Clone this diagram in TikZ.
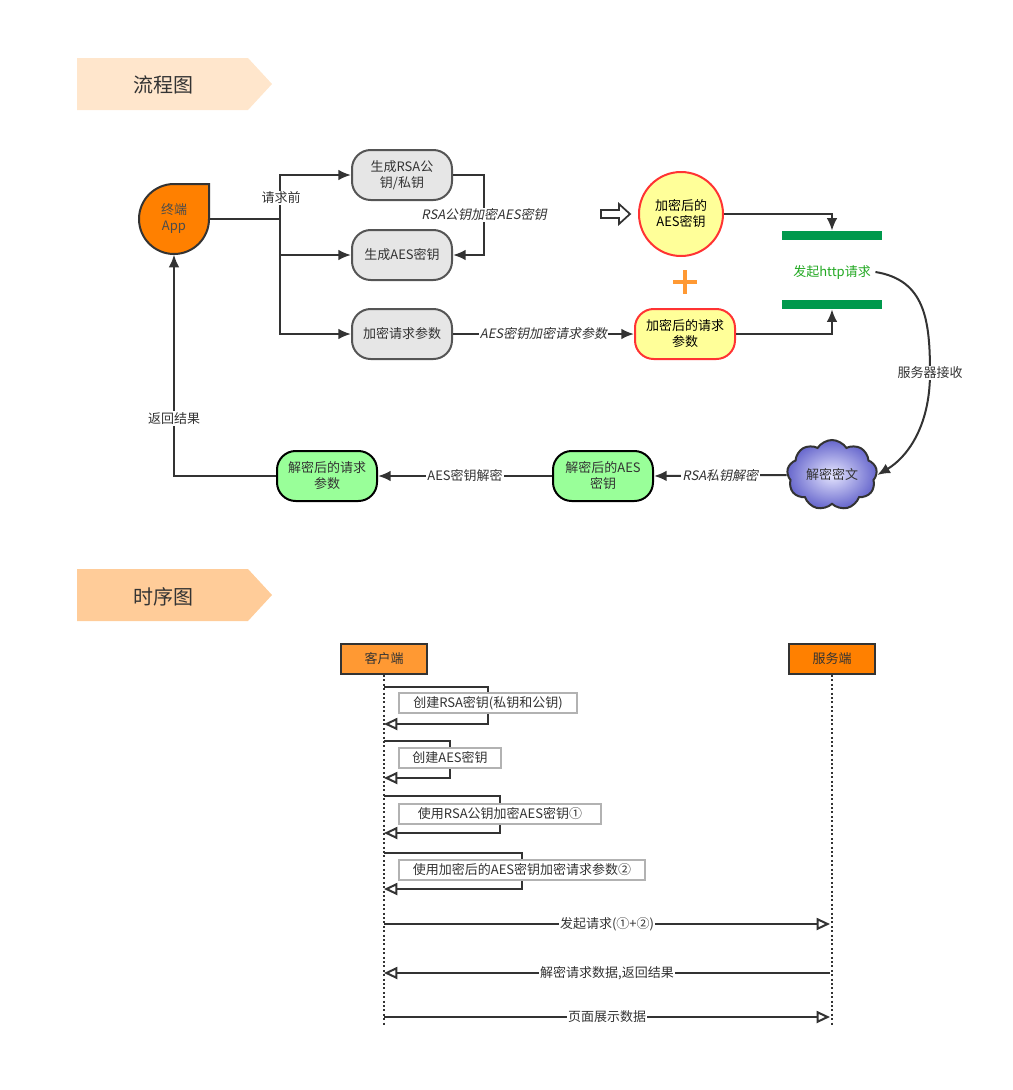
\documentclass[tikz,border=0pt]{standalone}
\usepackage{fontspec}
\setmainfont{Noto Sans CJK SC}
\newfontfamily\slantcjk[FakeSlant=0.2]{Noto Sans CJK SC}
\usepackage{tikz}
\usetikzlibrary{arrows.meta,positioning,calc,shapes.geometric,shapes.symbols,shapes.arrows}
\definecolor{Ink}{HTML}{333333}
\definecolor{Edge}{HTML}{555555}
\definecolor{Soft}{HTML}{E6E6E6}
\definecolor{Lemon}{HTML}{FFFF99}
\definecolor{Alert}{HTML}{FF3333}
\definecolor{Mint}{HTML}{99FF99}
\definecolor{Tang}{HTML}{FF8000}
\definecolor{Peach}{HTML}{FF9933}
\definecolor{Go}{HTML}{00994D}
\definecolor{HttpGreen}{HTML}{22A822}
\definecolor{FlowHead}{HTML}{FFE6CC}
\definecolor{SeqHead}{HTML}{FFCC99}
\definecolor{CloudOut}{HTML}{6666CC}
\definecolor{CloudIn}{HTML}{E6E6FF}
\tikzset{
  arr/.style={-{Latex[length=9.5pt,width=8pt]},line width=1.5pt,draw=Ink},
  flowline/.style={line width=1.5pt,draw=Ink},
  title/.style={text=Ink,font=\fontsize{15}{18}\selectfont},
  greybox/.style={draw=Edge,fill=Soft,rounded corners=14pt,line width=1.5pt,minimum width=75pt,minimum height=37.5pt,align=center,text=Ink,inner sep=2pt},
  yellowbox/.style={greybox,draw=Alert,fill=Lemon,text=black},
  greenbox/.style={greybox,draw=black,fill=Mint},
  lbl/.style={fill=white,inner sep=1pt,text=Ink},
  slantlbl/.style={lbl,font=\slantcjk\fontsize{9.75}{12}\selectfont},
  bar/.style={fill=Go,minimum width=75pt,minimum height=6.75pt,inner sep=0pt},
  actor/.style={draw=Ink,line width=1.5pt,minimum width=65pt,minimum height=22.5pt,text=Ink},
  note/.style={draw=black!30,line width=1.4pt,fill=white,minimum height=15pt,inner sep=1pt,text=Ink},
  lifeline/.style={draw=Ink,line width=1.5pt,dash pattern=on 1.5pt off 1.8pt},
  seqline/.style={draw=Ink,line width=1.5pt},
  seqarr/.style={-{Triangle[open,length=10pt,width=9pt]},line width=1.5pt,draw=Ink}
}
\begin{document}
\begin{tikzpicture}[x=0.75pt,y=-0.75pt,font=\fontsize{9.75}{12}\selectfont]
  \useasboundingbox (0,0) rectangle (1013,1090);
  % section headers
  \fill[FlowHead] (77,58) -- (248,58) -- (272,84) -- (248,110) -- (77,110) -- cycle;
  \node[title] (flowtitle) at (163,85) {流程图};
  \fill[SeqHead] (77,569) -- (248,569) -- (272,595) -- (248,621) -- (77,621) -- cycle;
  \node[title] (seqtitle) at (163,597) {时序图};

  % flow chart
  \draw[fill=Tang,draw=Ink,line width=1.5pt] (209,184) -- (209,219) arc[start angle=0,end angle=270,radius=35] -- cycle;
  \node[minimum width=53pt,minimum height=53pt,inner sep=0pt,align=center,text=black!70] (app) at (174,219) {终端\\App};
  \node[greybox] (rsa) at (402,175) {生成RSA公\\钥/私钥};
  \node[greybox] (aes) at (402,255) {生成AES密钥};
  \node[greybox] (param) at (402,334) {加密请求参数};
  \draw[fill=white,draw=Ink,line width=1.3pt,line join=miter] (601,210) -- (619,210) -- (619,204) -- (630,214) -- (619,224) -- (619,218) -- (601,218) -- cycle;
  \node[circle,draw=Alert,fill=Lemon,line width=1.5pt,minimum size=63pt,align=center,inner sep=0pt] (enckey) at (681,214) {加密后的\\AES密钥};
  \draw[Peach,line width=3pt] (673,282) -- (697,282) (685,270) -- (685,294);
  \node[yellowbox] (encparam) at (685,334) {加密后的请求\\参数};
  \node[bar] (bartop) at (832,235.5) {};
  \node[bar] (barbot) at (832,304.5) {};
  \node[text=HttpGreen] (http) at (832,272) {发起http请求};
  \node[cloud,cloud puffs=9,cloud puff arc=115,cloud ignores aspect,draw=Ink,line width=1.5pt,inner color=CloudIn,outer color=CloudOut,minimum width=67.5pt,minimum height=52.5pt,text=Ink] (cloud) at (832,475) {解密密文};
  \node[greenbox] (aesdec) at (603,476) {解密后的AES\\密钥};
  \node[greenbox] (paramdec) at (327,476) {解密后的请求\\参数};
  \coordinate (split) at (280,219);

  \draw[flowline] (app.east) -- (split);
  \draw[arr] (split) |- (rsa.west);
  \draw[arr] (split) |- (aes.west);
  \draw[arr] (split) |- (param.west);
  \node[lbl] (before) at (281,198) {请求前};
  \draw[arr] (rsa.east) -- ++(31,0) coordinate (bend) -- (bend |- aes.east) node[midway,slantlbl] {RSA公钥加密AES密钥} -- (aes.east);
  \draw[arr] (param.east) -- (encparam.west) node[midway,slantlbl] {AES密钥加密请求参数};
  \draw[arr] (enckey.east) -| (bartop.north);
  \draw[arr] (encparam.east) -| (barbot.south);
  \draw[arr] (http.east) .. controls (925,280) and (930,320) .. (930,373) node[lbl] (recv) {服务器接收} .. controls (930,428) and (906,458) .. (cloud.east);
  \draw[arr] (cloud.west) -- (aesdec.east) node[midway,slantlbl] {RSA私钥解密};
  \draw[arr] (aesdec.west) -- (paramdec.east) node[midway,lbl] {AES密钥解密};
  \draw[arr] (paramdec.west) -| (app.south) node[pos=0.63,lbl] {返回结果};

  % sequence diagram
  \node[actor,fill=Peach] (client) at (384,659) {客户端};
  \node[actor,fill=Tang] (server) at (832,659) {服务端};
  \coordinate (clientend) at (384,1025);
  \coordinate (serverend) at (832,1025);
  \draw[lifeline] (client.south) -- (clientend);
  \draw[lifeline] (server.south) -- (serverend);

  \coordinate (c1a) at (384,687);  \coordinate (c1b) at (384,724);
  \coordinate (c2a) at (384,741);  \coordinate (c2b) at (384,778);
  \coordinate (c3a) at (384,796);  \coordinate (c3b) at (384,833);
  \coordinate (c4a) at (384,853);  \coordinate (c4b) at (384,889);
  \draw[seqline] (c1a) -| (488,703);
  \draw[seqarr] (488,703) |- (c1b);
  \node[note,minimum width=134pt] (note1) at (488,703) {创建RSA密钥(私钥和公钥)};
  \draw[seqline] (c2a) -| (450,758);
  \draw[seqarr] (450,758) |- (c2b);
  \node[note,minimum width=77pt] (note2) at (450,758) {创建AES密钥};
  \draw[seqline] (c3a) -| (500,814);
  \draw[seqarr] (500,814) |- (c3b);
  \node[note,minimum width=151.5pt] (note3) at (500,814) {使用RSA公钥加密AES密钥①};
  \draw[seqline] (c4a) -| (522,870);
  \draw[seqarr] (522,870) |- (c4b);
  \node[note,minimum width=184.5pt] (note4) at (522,870) {使用加密后的AES密钥加密请求参数②};

  \coordinate (m1a) at (384,924);  \coordinate (m1b) at (830,924);
  \coordinate (m2a) at (830,973);  \coordinate (m2b) at (384,973);
  \coordinate (m3a) at (384,1017); \coordinate (m3b) at (830,1017);
  \draw[seqarr] (m1a) -- (m1b) node[midway,lbl] (send) {发起请求(①+②)};
  \draw[seqarr] (m2a) -- (m2b) node[midway,lbl] (reply) {解密请求数据,返回结果};
  \draw[seqarr] (m3a) -- (m3b) node[midway,lbl] (show) {页面展示数据};
\end{tikzpicture}
\end{document}
